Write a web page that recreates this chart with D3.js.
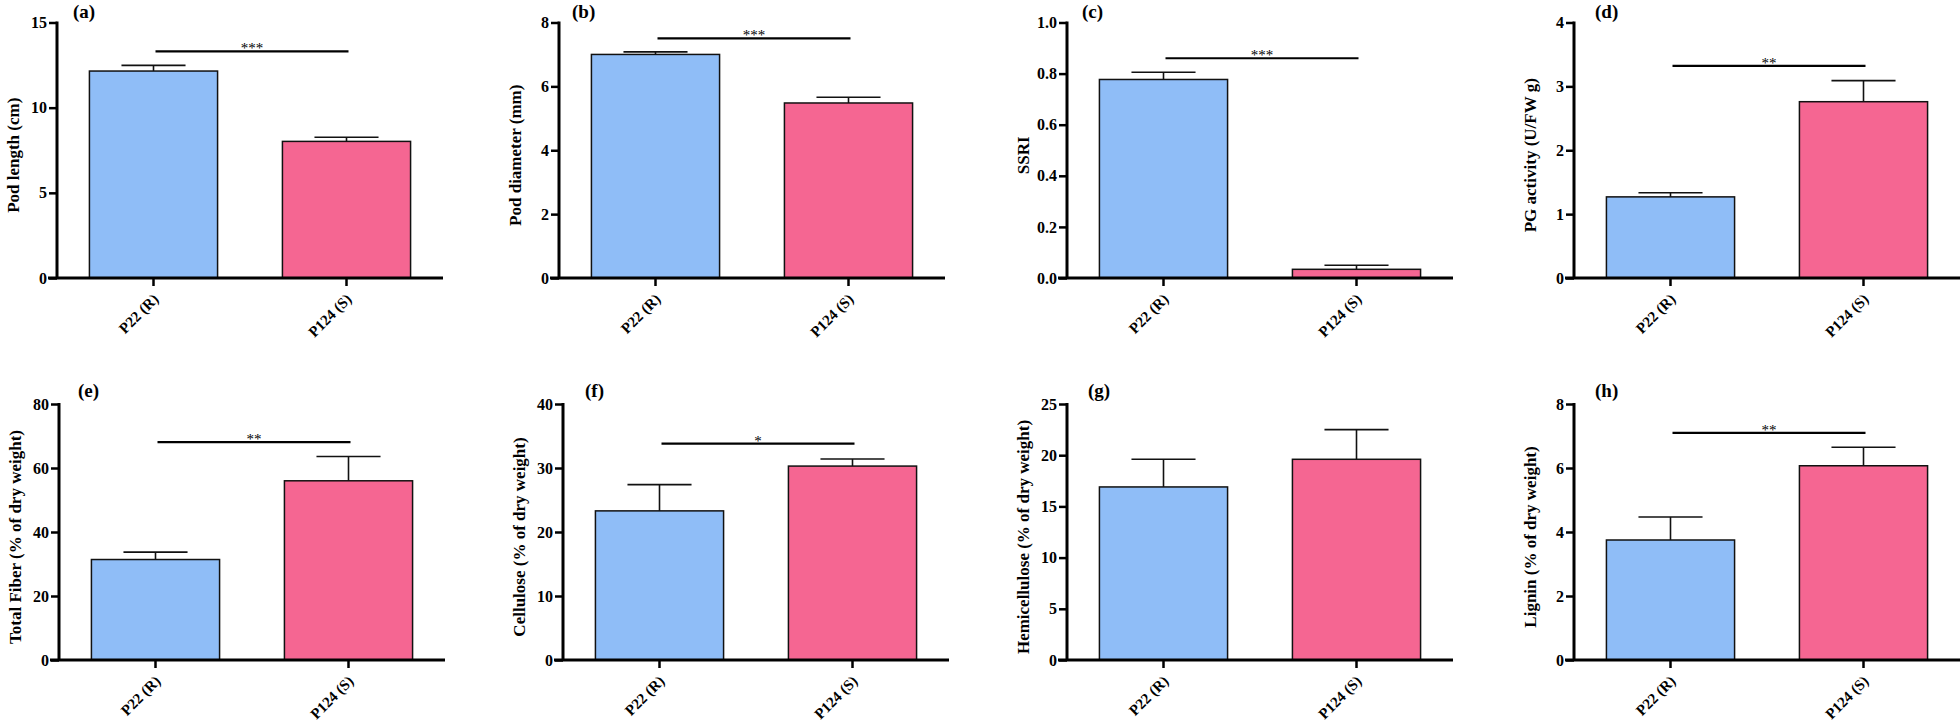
<!DOCTYPE html>
<html>
<head>
<meta charset="utf-8">
<script src="https://cdn.jsdelivr.net/npm/d3@7"></script>
<style>
  html, body { margin: 0; padding: 0; background: #ffffff; }
  svg { display: block; }
  text { font-family: "Liberation Serif", "Times New Roman", serif; }
</style>
</head>
<body>
<svg id="chart" width="1960" height="721"></svg>
<script>
// ---------------- data ----------------
const categories = ["P22 (R)", "P124 (S)"];
const panelLabels = ["(a)", "(b)", "(c)", "(d)", "(e)", "(f)", "(g)", "(h)"];
const yTitles = [
  "Pod length (cm)",
  "Pod diameter (mm)",
  "SSRI",
  "PG activity (U/FW g)",
  "Total Fiber (% of dry weight)",
  "Cellulose (% of dry weight)",
  "Hemicellulose (% of dry weight)",
  "Lignin (% of dry weight)"
];
const meanR = [12.15, 7.00, 0.777, 1.27, 31.4, 23.3, 16.9, 3.75];
const errR  = [0.33, 0.08, 0.028, 0.065, 2.3, 4.1, 2.7, 0.72];
const meanS = [8.02, 5.48, 0.034, 2.76, 56.0, 30.3, 19.6, 6.07];
const errS  = [0.24, 0.18, 0.016, 0.33, 7.6, 1.1, 2.9, 0.58];
const yTicks = [
  [0, 5, 10, 15],
  [0, 2, 4, 6, 8],
  [0, 0.2, 0.4, 0.6, 0.8, 1.0],
  [0, 1, 2, 3, 4],
  [0, 20, 40, 60, 80],
  [0, 10, 20, 30, 40],
  [0, 5, 10, 15, 20, 25],
  [0, 2, 4, 6, 8]
];
const tickFormats = ["d", "d", ".1f", "d", "d", "d", "d", "d"];
const sigLabels = ["***", "***", "***", "**", "**", "*", "", "**"];
const sigLevels = [13.3, 7.5, 0.86, 3.32, 68.1, 33.8, null, 7.1];

// ---------------- layout ----------------
const axisX = [57, 559, 1067, 1574, 59, 563, 1067, 1574];
const rowTop = [22.5, 404];
const rowBottom = [278, 660];
const labelBase = [18, 397];
const plotW = 386;
const labelDx = [16, 13, 15, 21, 19, 22, 21, 21];
const colors = ["#8fbdf7", "#f56692"];

const svg = d3.select("#chart");
svg.append("rect").attr("width", 1960).attr("height", 721).attr("fill", "#ffffff");

for (let i = 0; i < 8; i++) {
  const row = i < 4 ? 0 : 1;
  const x0 = axisX[i];
  const top = rowTop[row], bottom = rowBottom[row];
  const ticks = yTicks[i];
  const y = d3.scaleLinear().domain([0, ticks[ticks.length - 1]]).range([bottom, top]);
  const x = d3.scaleBand().domain(categories).range([x0, x0 + plotW])
    .paddingInner(0.336).paddingOuter(0.168);
  const g = svg.append("g");
  const data = [
    { cat: categories[0], m: meanR[i], e: errR[i], c: colors[0] },
    { cat: categories[1], m: meanS[i], e: errS[i], c: colors[1] }
  ];

  // error bars (upper only)
  g.selectAll(".err").data(data).enter().append("line")
    .attr("x1", d => x(d.cat) + x.bandwidth() / 2)
    .attr("x2", d => x(d.cat) + x.bandwidth() / 2)
    .attr("y1", d => y(d.m)).attr("y2", d => y(d.m + d.e))
    .attr("stroke", "#111").attr("stroke-width", 1.6);
  g.selectAll(".cap").data(data).enter().append("line")
    .attr("x1", d => x(d.cat) + x.bandwidth() / 4)
    .attr("x2", d => x(d.cat) + x.bandwidth() * 3 / 4)
    .attr("y1", d => y(d.m + d.e)).attr("y2", d => y(d.m + d.e))
    .attr("stroke", "#111").attr("stroke-width", 1.6);

  // bars
  g.selectAll(".bar").data(data).enter().append("rect")
    .attr("x", d => x(d.cat))
    .attr("y", d => y(d.m))
    .attr("width", x.bandwidth())
    .attr("height", d => bottom - y(d.m))
    .attr("fill", d => d.c)
    .attr("stroke", "#111").attr("stroke-width", 1.5);

  // y axis
  const yAxis = d3.axisLeft(y).tickValues(ticks).tickFormat(d3.format(tickFormats[i]))
    .tickSizeOuter(0).tickSizeInner(8).tickPadding(2);
  const ya = g.append("g").attr("transform", `translate(${x0},0)`).call(yAxis);
  ya.select(".domain").attr("stroke", "#000").attr("stroke-width", 3)
    .attr("d", `M0,${top - 1}V${bottom}`);
  ya.selectAll(".tick line").attr("stroke", "#000").attr("stroke-width", 2.5);
  ya.selectAll(".tick text").attr("font-size", 16).attr("font-weight", "bold")
    .attr("fill", "#000").style("font-family", '"Liberation Serif", serif');

  // x axis
  const xAxis = d3.axisBottom(x).tickSizeOuter(0).tickSizeInner(8).tickPadding(2);
  const xa = g.append("g").attr("transform", `translate(0,${bottom})`).call(xAxis);
  xa.select(".domain").attr("stroke", "#000").attr("stroke-width", 3)
    .attr("d", `M${x0 - 9},0H${x0 + plotW}`);
  xa.selectAll(".tick line").attr("stroke", "#000").attr("stroke-width", 2.5);
  xa.selectAll(".tick text")
    .attr("font-size", 15).attr("font-weight", "bold").attr("fill", "#000")
    .style("font-family", '"Liberation Serif", serif')
    .attr("text-anchor", "end")
    .attr("y", 0).attr("dy", 0)
    .attr("transform", "translate(6,22) rotate(-45)");

  // y title
  g.append("text")
    .attr("transform", `translate(${x0 - 38},${(top + bottom) / 2 + 5}) rotate(-90)`)
    .attr("text-anchor", "middle")
    .attr("font-size", 17).attr("font-weight", "bold").attr("fill", "#000")
    .text(yTitles[i]);

  // panel label
  g.append("text")
    .attr("x", x0 + labelDx[i]).attr("y", labelBase[row])
    .attr("font-size", 19).attr("font-weight", "bold").attr("fill", "#000")
    .text(panelLabels[i]);

  // significance
  if (sigLevels[i] !== null) {
    const x1 = x(categories[0]) + x.bandwidth() / 2 + 2;
    const x2 = x(categories[1]) + x.bandwidth() / 2 + 2;
    const ys = y(sigLevels[i]);
    g.append("line").attr("x1", x1).attr("x2", x2).attr("y1", ys).attr("y2", ys)
      .attr("stroke", "#000").attr("stroke-width", 2.2);
    g.append("text").attr("x", (x1 + x2) / 2).attr("y", ys + 2)
      .attr("text-anchor", "middle").attr("font-size", 15).attr("fill", "#000")
      .text(sigLabels[i]);
  }
}
</script>
</body>
</html>
